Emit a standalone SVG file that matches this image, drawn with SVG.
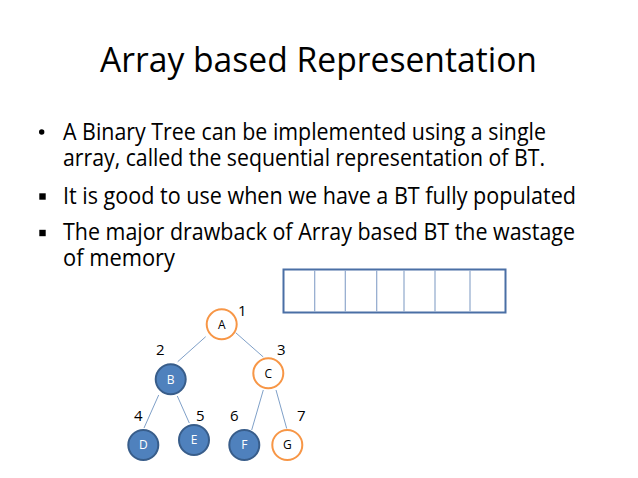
<svg xmlns="http://www.w3.org/2000/svg" width="638" height="478" viewBox="0 0 638 478">
<style>
text{font-family:"Open Sans","Liberation Sans",Arial,sans-serif;fill:#000}
.title{font-size:35px}
.body{font-size:23px}
.num{font-size:15px}
.lbl{font-size:12px;text-anchor:middle}
.blue circle{fill:#4F81BD;stroke:#385D8A;stroke-width:2}
.blue text{fill:#fff}
.orange circle{fill:#fff;stroke:#F79646;stroke-width:2}
.edge{stroke:#7FA0C8;stroke-width:1}
.cell{stroke:#8FA8CC;stroke-width:1.2}
</style>
<rect width="638" height="478" fill="#fff"/>
<text class="title" x="100" y="72" textLength="437" lengthAdjust="spacingAndGlyphs">Array based Representation</text>
<circle cx="41.7" cy="132" r="2.7" fill="#000"/>
<rect x="39.3" y="193.3" width="6.4" height="6.4" fill="#000"/>
<rect x="39.3" y="229.8" width="6.4" height="6.4" fill="#000"/>
<text class="body" x="63" y="140" textLength="483" lengthAdjust="spacingAndGlyphs">A Binary Tree can be implemented using a single</text>
<text class="body" x="63" y="166" textLength="482" lengthAdjust="spacingAndGlyphs">array, called the sequential representation of BT.</text>
<text class="body" x="63" y="204" textLength="513" lengthAdjust="spacingAndGlyphs">It is good to use when we have a BT fully populated</text>
<text class="body" x="63" y="240" textLength="512" lengthAdjust="spacingAndGlyphs">The major drawback of Array based BT the wastage</text>
<text class="body" x="63" y="266" textLength="112" lengthAdjust="spacingAndGlyphs">of memory</text>
<g id="array">
<rect x="283.5" y="269.5" width="222" height="43" fill="#fff" stroke="#4A6FA5" stroke-width="2"/>
<line class="cell" x1="314.7" y1="270.5" x2="314.7" y2="311.5"/>
<line class="cell" x1="345.3" y1="270.5" x2="345.3" y2="311.5"/>
<line class="cell" x1="376.7" y1="270.5" x2="376.7" y2="311.5"/>
<line class="cell" x1="404" y1="270.5" x2="404" y2="311.5"/>
<line class="cell" x1="435" y1="270.5" x2="435" y2="311.5"/>
<line class="cell" x1="470" y1="270.5" x2="470" y2="311.5"/>
</g>
<g id="connectors">
<line class="edge" x1="205.7" y1="336.7" x2="177.7" y2="361.7"/>
<line class="edge" x1="235.7" y1="332.7" x2="263.3" y2="357"/>
<line class="edge" x1="158.7" y1="395" x2="144" y2="428"/>
<line class="edge" x1="177.3" y1="396" x2="189.3" y2="423"/>
<line class="edge" x1="263.3" y1="390" x2="251.7" y2="430"/>
<line class="edge" x1="276" y1="390" x2="286.7" y2="428.5"/>
</g>
<g id="nodeA" class="orange"><circle cx="221.7" cy="324.3" r="15"/><text class="lbl" x="221.7" y="328.5">A</text></g>
<g id="nodeB" class="blue"><circle cx="170.7" cy="379.3" r="15"/><text class="lbl" x="170.7" y="383.5">B</text></g>
<g id="nodeC" class="orange"><circle cx="268.3" cy="373.3" r="15"/><text class="lbl" x="268.3" y="377.5">C</text></g>
<g id="nodeD" class="blue"><circle cx="143.3" cy="445" r="15"/><text class="lbl" x="143.3" y="449.2">D</text></g>
<g id="nodeE" class="blue"><circle cx="194" cy="440" r="15"/><text class="lbl" x="194" y="444.2">E</text></g>
<g id="nodeF" class="blue"><circle cx="244.3" cy="445" r="15"/><text class="lbl" x="244.3" y="449.2">F</text></g>
<g id="nodeG" class="orange"><circle cx="287.3" cy="445" r="15"/><text class="lbl" x="287.3" y="449.2">G</text></g>
<g id="numbers">
<text class="num" x="238" y="316">1</text>
<text class="num" x="156" y="355">2</text>
<text class="num" x="277" y="355">3</text>
<text class="num" x="134" y="421">4</text>
<text class="num" x="196" y="421">5</text>
<text class="num" x="230" y="421">6</text>
<text class="num" x="297" y="421">7</text>
</g>
</svg>
